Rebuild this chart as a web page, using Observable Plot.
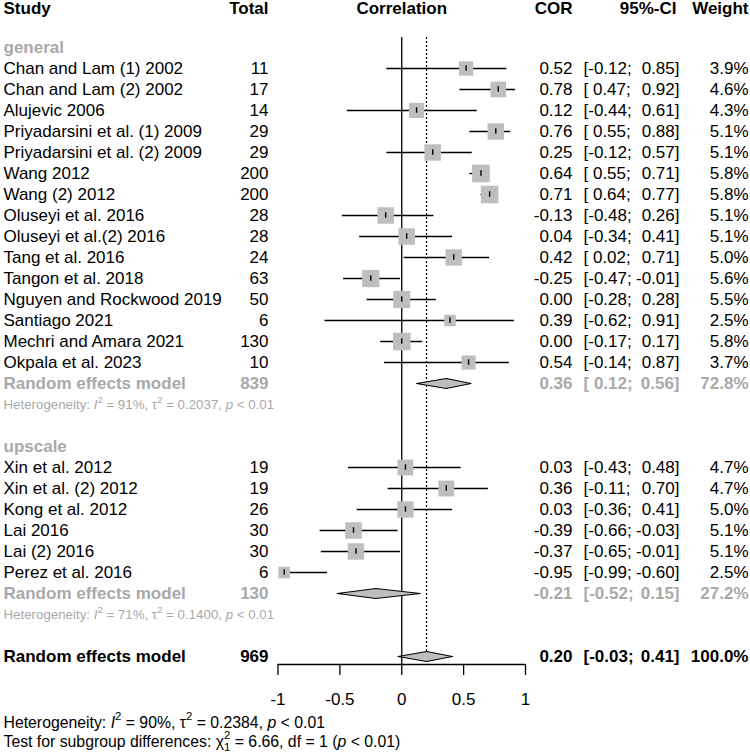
<!DOCTYPE html>
<html><head><meta charset="utf-8">
<script src="https://cdn.jsdelivr.net/npm/d3@7"></script>
<script src="https://cdn.jsdelivr.net/npm/@observablehq/plot@0.6"></script>
<style>body{margin:0;background:#fff}</style>
</head><body><div id="chart"></div>
<script>
// ---------- data ----------
const studies = ["Chan and Lam (1) 2002","Chan and Lam (2) 2002","Alujevic 2006","Priyadarsini et al. (1) 2009","Priyadarsini et al. (2) 2009","Wang 2012","Wang (2) 2012","Oluseyi et al. 2016","Oluseyi et al.(2) 2016","Tang et al. 2016","Tangon et al. 2018","Nguyen and Rockwood 2019","Santiago 2021","Mechri and Amara 2021","Okpala et al. 2023",
  "Xin et al. 2012","Xin et al. (2) 2012","Kong et al. 2012","Lai 2016","Lai (2) 2016","Perez et al. 2016"];
const groups = ["general","general","general","general","general","general","general","general","general","general","general","general","general","general","general",
  "upscale","upscale","upscale","upscale","upscale","upscale"];
const totals = [11,17,14,29,29,200,200,28,28,24,63,50,6,130,10, 19,19,26,30,30,6];
const cors   = [0.52,0.78,0.12,0.76,0.25,0.64,0.71,-0.13,0.04,0.42,-0.25,0.00,0.39,0.00,0.54, 0.03,0.36,0.03,-0.39,-0.37,-0.95];
const lowers = [-0.12,0.47,-0.44,0.55,-0.12,0.55,0.64,-0.48,-0.34,0.02,-0.47,-0.28,-0.62,-0.17,-0.14, -0.43,-0.11,-0.36,-0.66,-0.65,-0.99];
const uppers = [0.85,0.92,0.61,0.88,0.57,0.71,0.77,0.26,0.41,0.71,-0.01,0.28,0.91,0.17,0.87, 0.48,0.70,0.41,-0.03,-0.01,-0.60];
const weights = [3.9,4.6,4.3,5.1,5.1,5.8,5.8,5.1,5.1,5.0,5.6,5.5,2.5,5.8,3.7, 4.7,4.7,5.0,5.1,5.1,2.5];

const groupNames = ["general","upscale"];
const pooledTotals = [839,130];
const pooledCors = [0.36,-0.21];
const pooledLowers = [0.12,-0.52];
const pooledUppers = [0.56,0.15];
const pooledWeights = [72.8,27.2];
const hetI2 = ["91%","71%"];
const hetTau2 = ["0.2037","0.1400"];
const hetP = ["< 0.01","< 0.01"];

const overallLabel = "Random effects model";
const overallTotal = 969;
const overallCor = 0.20, overallLower = -0.03, overallUpper = 0.41, overallWeight = 100.0;
const overallI2 = "90%", overallTau2 = "0.2384", overallP = "< 0.01";
const subgroupChi2 = "6.66", subgroupDf = "1", subgroupP = "< 0.01";

const axisTicks = [-1,-0.5,0,0.5,1];
const headers = {study:"Study", total:"Total", plot:"Correlation", cor:"COR", ci:"95%-CI", weight:"Weight"};

// ---------- layout ----------
const W = 750, H = 752;
const FONT = "'Liberation Sans', Arial, Helvetica, sans-serif";
const FS = 17, FS_HET = 13.3, FS_FOOT = 15.8;
const GREY = "#a9a9a9", SQ = "#bebebe";
const rowTop = 47, rowStep = 21;
const pxRow = px => (px - rowTop) / rowStep;
const axisPx = 664;
const headerRow = pxRow(8), lineTopRow = pxRow(37), axisRow = pxRow(axisPx);
const footRows = [pxRow(722), pxRow(741)];

const f2 = v => v.toFixed(2);
const ciL = v => "[" + (v < 0 ? f2(v) : " " + f2(v)) + ";";
const ciU = v => f2(v) + "]";

// build rows
const studyRows = [], labelRows = [], pooledRows = [], hetRows = [], diamonds = [];
let r = 0;
groupNames.forEach((g, gi) => {
  labelRows.push({row: r, study: g});
  r++;
  studies.forEach((s, i) => {
    if (groups[i] !== g) return;
    studyRows.push({row: r, study: s, total: String(totals[i]), cor: cors[i], lower: lowers[i], upper: uppers[i],
      corT: f2(cors[i]), ciL: ciL(lowers[i]), ciU: ciU(uppers[i]), weight: weights[i], weightT: weights[i].toFixed(1) + "%"});
    r++;
  });
  pooledRows.push({row: r, study: "Random effects model", total: String(pooledTotals[gi]), corT: f2(pooledCors[gi]),
    ciL: ciL(pooledLowers[gi]), ciU: ciU(pooledUppers[gi]), weightT: pooledWeights[gi].toFixed(1) + "%"});
  diamonds.push({id: g, row: r, est: pooledCors[gi], lo: pooledLowers[gi], hi: pooledUppers[gi]});
  hetRows.push({row: r + 1, segs: [["Heterogeneity: ",""],["I","i"],["2","sup"],[" = " + hetI2[gi] + ", \u03c4",""],["2","sup"],[" = " + hetTau2[gi] + ", ",""],["p","i"],[" " + hetP[gi],""]]});
  r += 3;
});
const overallRow = r;
const overallRows = [{row: overallRow, study: overallLabel, total: String(overallTotal), corT: f2(overallCor),
  ciL: ciL(overallLower), ciU: ciU(overallUpper), weightT: overallWeight.toFixed(1) + "%"}];
diamonds.push({id: "overall", row: overallRow, est: overallCor, lo: overallLower, hi: overallUpper});
const footRowsData = [
  {row: footRows[0], segs: [["Heterogeneity: ",""],["I","i"],["2","sup"],[" = " + overallI2 + ", \u03c4",""],["2","sup"],[" = " + overallTau2 + ", ",""],["p","i"],[" " + overallP,""]]},
  {row: footRows[1], segs: [["Test for subgroup differences: \u03c7",""],["2","sup"],["1","sub"],[" = " + subgroupChi2 + ", df = " + subgroupDf + " (",""],["p","i"],[" " + subgroupP + ")",""]]}
];
hetRows.forEach(d => d.plain = d.segs.map(s => s[0]).join(""));
footRowsData.forEach(d => d.plain = d.segs.map(s => s[0]).join(""));

const dH = 5 / rowStep; // diamond half height in rows
const diamondPts = diamonds.flatMap(d => [
  {id: d.id, x: d.lo, y: d.row}, {id: d.id, x: d.est, y: d.row - dH},
  {id: d.id, x: d.hi, y: d.row}, {id: d.id, x: d.est, y: d.row + dH}, {id: d.id, x: d.lo, y: d.row}
]);

const cols = [
  {key: "study", px: 3, anchor: "start"},
  {key: "total", px: 268, anchor: "end"},
  {key: "corT", px: 572, anchor: "end"},
  {key: "ciL", px: 583, anchor: "start"},
  {key: "ciU", px: 679, anchor: "end"},
  {key: "weightT", px: 748, anchor: "end"}
];
function columnMarks(data, fill, weight) {
  return cols.map(c => Plot.text(data, {frameAnchor: "left", dx: c.px, y: "row", text: c.key,
    textAnchor: c.anchor, fill, fontWeight: weight, fontSize: FS}));
}
const headerData = [
  {row: headerRow, text: headers.study, px: 3, anchor: "start"},
  {row: headerRow, text: headers.total, px: 268, anchor: "end"},
  {row: headerRow, text: headers.cor, px: 572, anchor: "end"},
  {row: headerRow, text: headers.ci, px: 676, anchor: "end"},
  {row: headerRow, text: headers.weight, px: 748, anchor: "end"}
];

const chart = Plot.plot({
  width: W, height: H,
  marginLeft: 0, marginRight: 0, marginTop: 0, marginBottom: H - axisPx,
  x: {domain: [-1, 1], range: [277.5, 525], axis: null},
  y: {domain: [0, overallRow], range: [rowTop, rowTop + overallRow * rowStep], axis: null},
  r: {type: "identity"},
  style: {fontFamily: FONT, background: "white", color: "black", overflow: "visible"},
  marks: [
    Plot.ruleX([0], {y1: lineTopRow, y2: axisRow, stroke: "black", strokeWidth: 1.3}),
    Plot.ruleX([overallCor], {y1: lineTopRow, y2: overallRow, stroke: "black", strokeWidth: 1.2, strokeDasharray: "2,2"}),
    Plot.ruleY([axisRow], {x1: axisTicks[0], x2: axisTicks[axisTicks.length - 1], stroke: "black", strokeWidth: 1.3}),
    Plot.axisX({anchor: "bottom", ticks: axisTicks, tickFormat: d => String(d), tickSize: 11, tickPadding: 17,
      fontSize: FS, strokeWidth: 1.3, stroke: "black", fill: "black"}),
    Plot.ruleY(studyRows, {y: "row", x1: "lower", x2: "upper", stroke: "black", strokeWidth: 1.3}),
    Plot.dot(studyRows, {x: "cor", y: "row", symbol: "square", r: d => 7.3 * Math.sqrt(d.weight) / Math.sqrt(Math.PI), fill: SQ, stroke: "none"}),
    Plot.ruleX(studyRows, {x: "cor", y1: d => d.row - 0.13, y2: d => d.row + 0.13, stroke: "black", strokeWidth: 1.4}),
    Plot.line(diamondPts, {x: "x", y: "y", z: "id", fill: SQ, stroke: "black", strokeWidth: 1.2, curve: "linear"}),
    // headers
    ...headerData.map(h => Plot.text([h], {frameAnchor: "left", dx: h.px, y: "row", text: "text", textAnchor: h.anchor, fontWeight: "bold", fontSize: FS, fill: "black"})),
    Plot.text([{x: 0, row: headerRow, text: headers.plot}], {x: "x", y: "row", text: "text", fontWeight: "bold", fontSize: FS, fill: "black"}),
    // group labels
    Plot.text(labelRows, {frameAnchor: "left", dx: 3, y: "row", text: "study", textAnchor: "start", fill: GREY, fontWeight: "bold", fontSize: FS}),
    ...columnMarks(studyRows, "black", "normal"),
    ...columnMarks(pooledRows, GREY, "bold"),
    ...columnMarks(overallRows, "black", "bold"),
    Plot.text(hetRows, {frameAnchor: "left", dx: 3, y: "row", text: "plain", textAnchor: "start", fill: GREY, fontSize: FS_HET}),
    Plot.text(footRowsData, {frameAnchor: "left", dx: 3, y: "row", text: "plain", textAnchor: "start", fill: "black", fontSize: FS_FOOT})
  ]
});
document.getElementById("chart").appendChild(chart);

// rich text (italic, superscript, subscript)
function richify(specs, fs) {
  const texts = Array.from(chart.querySelectorAll("text"));
  specs.forEach(spec => {
    const el = texts.find(t => t.textContent === spec.plain);
    if (!el) return;
    const t = d3.select(el);
    t.text(null).style("white-space", "pre");
    let cur = 0;
    const supFs = fs * 0.72;
    spec.segs.forEach(([s, kind]) => {
      const ts = t.append("tspan").text(s);
      let target = 0;
      if (kind === "i") ts.attr("font-style", "italic");
      if (kind === "sup") { target = -0.45 * fs; ts.attr("font-size", supFs); }
      if (kind === "sub") { target = 0.3 * fs; ts.attr("font-size", supFs).attr("dx", -0.556 * supFs); }
      if (target - cur !== 0) ts.attr("dy", target - cur);
      cur = target;
    });
  });
}
richify(hetRows, FS_HET);
richify(footRowsData, FS_FOOT);
</script></body></html>
